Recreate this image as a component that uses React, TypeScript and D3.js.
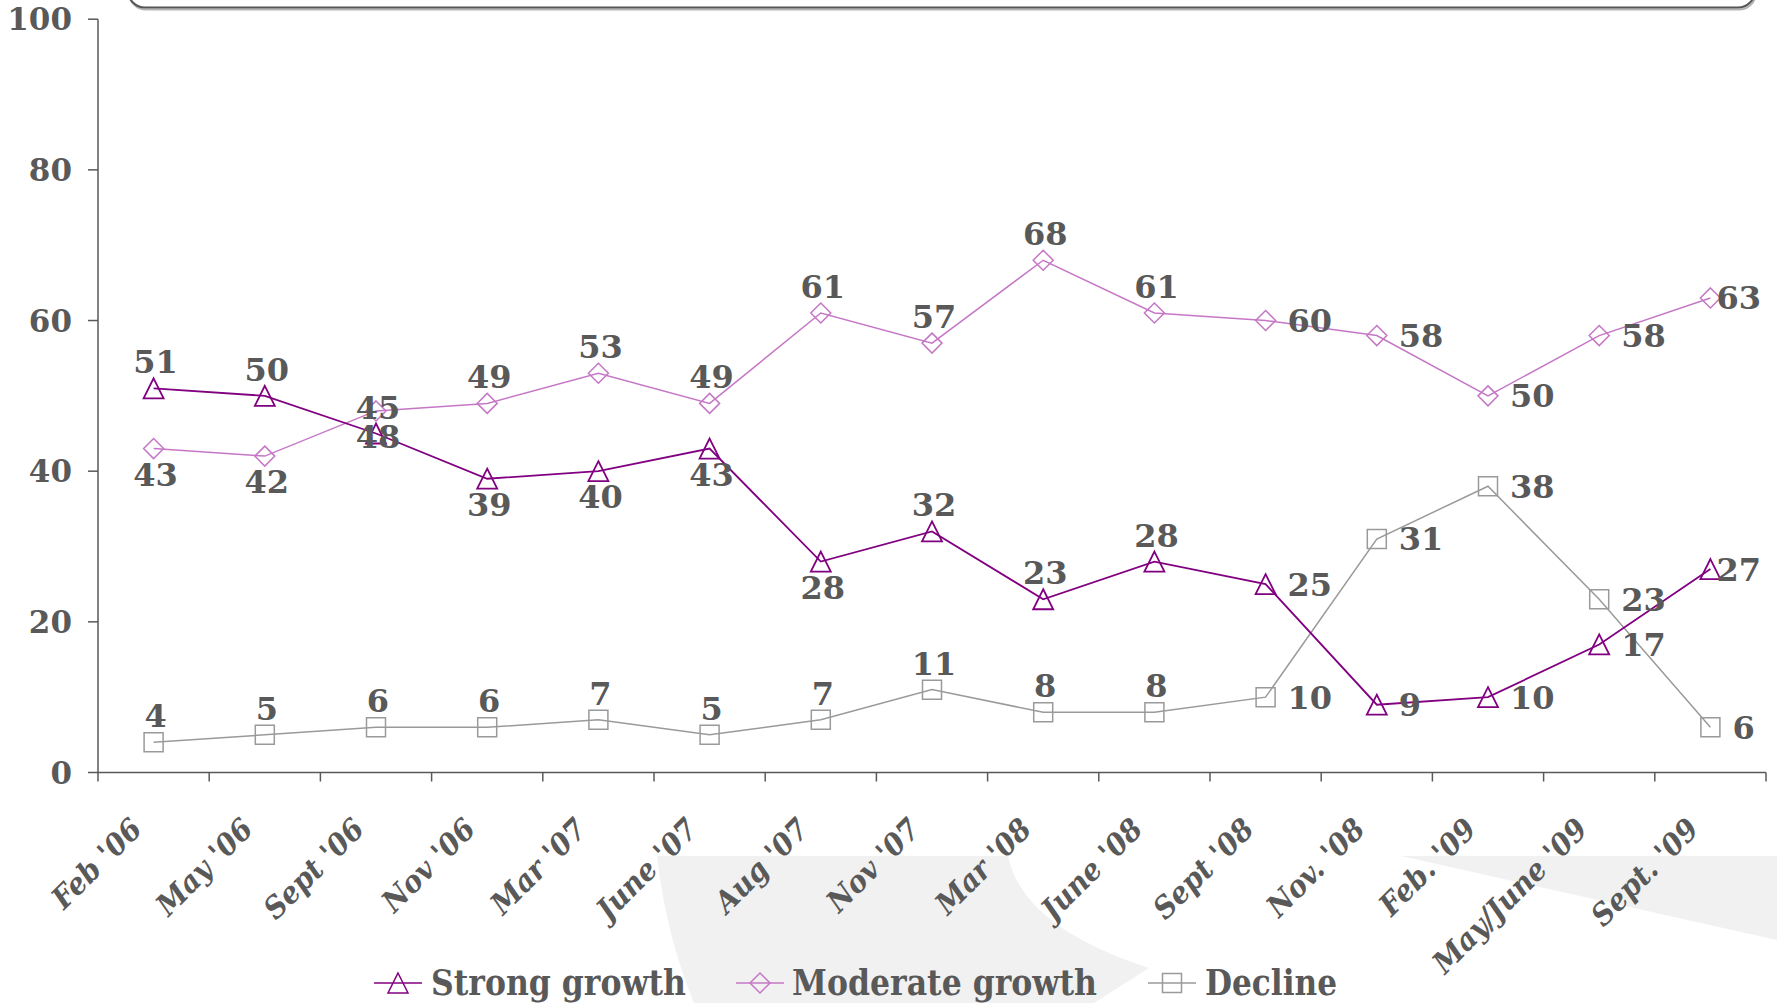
import React from "react";
import * as d3 from "d3";

// Survey waves (x axis)
const categories = [
  "Feb '06", "May '06", "Sept '06", "Nov '06", "Mar '07", "June '07", "Aug '07",
  "Nov '07", "Mar '08", "June '08", "Sept '08", "Nov. '08", "Feb. '09",
  "May/June '09", "Sept. '09",
];

// Share of respondents (%) per answer
const strongGrowth = [51, 50, 45, 39, 40, 43, 28, 32, 23, 28, 25, 9, 10, 17, 27];
const moderateGrowth = [43, 42, 48, 49, 53, 49, 61, 57, 68, 61, 60, 58, 50, 58, 63];
const decline = [4, 5, 6, 6, 7, 5, 7, 11, 8, 8, 10, 31, 38, 23, 6];

const yTicks = [0, 20, 40, 60, 80, 100];

// Where each value label sits relative to its point: a = above, b = below, r = right
const strongPlace = ["a", "a", "a", "b", "b", "b", "b", "a", "a", "a", "r", "r", "r", "r", "r"];
const moderatePlace = ["b", "b", "b", "a", "a", "a", "a", "a", "a", "a", "r", "r", "r", "r", "r"];
const declinePlace = ["a", "a", "a", "a", "a", "a", "a", "a", "a", "a", "r", "r", "r", "r", "r"];

const TEXT = "#595959";
const AXIS = "#595959";
const SERIF = "'DejaVu Serif', serif";

const W = 1777;
const H = 1003;

type Marker = "triangle" | "diamond" | "square";

function markerPath(kind: Marker): string {
  if (kind === "triangle") return "M0,-10L10,10L-10,10Z";
  if (kind === "diamond") return "M0,-10L10,0L0,10L-10,0Z";
  return "M-9.5,-9.5L9.5,-9.5L9.5,9.5L-9.5,9.5Z";
}

const series = [
  { name: "Decline", values: decline, place: declinePlace, color: "#9a9a9a", width: 1.5, marker: "square" as Marker },
  { name: "Moderate growth", values: moderateGrowth, place: moderatePlace, color: "#c577c5", width: 1.5, marker: "diamond" as Marker },
  { name: "Strong growth", values: strongGrowth, place: strongPlace, color: "#800080", width: 1.8, marker: "triangle" as Marker },
];

const legendItems = [
  { label: "Strong growth", color: "#800080", marker: "triangle" as Marker, lineX: 374, textX: 431, textLen: 255 },
  { label: "Moderate growth", color: "#c577c5", marker: "diamond" as Marker, lineX: 736, textX: 792, textLen: 305 },
  { label: "Decline", color: "#9a9a9a", marker: "square" as Marker, lineX: 1148, textX: 1205, textLen: 132 },
];

export default function App() {
  const plotLeft = 98;
  const plotRight = 1766;
  const x = d3.scaleBand<string>().domain(categories).range([plotLeft, plotRight]).padding(0);
  const y = d3.scaleLinear().domain([0, 100]).range([772.5, 19.2]);
  const cx = (i: number) => (x(categories[i]) as number) + x.bandwidth() / 2;

  const line = d3
    .line<number>()
    .x((_, i) => cx(i))
    .y((d) => y(d));

  const labelFont = 32;
  const digitW = 22.3;
  const labelRightLimit = 1761;

  const bandEdges = d3.range(categories.length + 1).map((i) => plotLeft + i * x.bandwidth());

  return (
    <svg
      width={W}
      height={H}
      viewBox={`0 0 ${W} ${H}`}
      style={{ position: "absolute", left: 0, top: 0, display: "block", background: "#fff" }}
    >
      {/* decorative background shapes */}
      <path
        d="M657,856 L1008,856 C1020,912 1080,945 1149,968 L1094,1003 L694,1003 Q666,935 657,856 Z"
        fill="#f1f1f1"
      />
      <path d="M1401,856 L1777,856 L1777,940 Z" fill="#f1f1f1" />

      {/* framed header box (cut by the top edge) */}
      <rect x={129} y={-60} width={1627} height={69.5} rx={17} fill="none" stroke="#b5b5b5" strokeWidth={2} />
      <rect x={128} y={-60} width={1627} height={67.5} rx={17} fill="none" stroke="#555" strokeWidth={2} />

      {/* y axis */}
      <line x1={plotLeft} x2={plotLeft} y1={y(100)} y2={y(0)} stroke={AXIS} strokeWidth={1.5} />
      {yTicks.map((t) => (
        <g key={t}>
          <line x1={plotLeft - 10} x2={plotLeft} y1={y(t)} y2={y(t)} stroke={AXIS} strokeWidth={1.5} />
          <text
            x={72}
            y={y(t)}
            dy="0.36em"
            textAnchor="end"
            fontFamily={SERIF}
            fontWeight="bold"
            fontSize={31}
            fill={TEXT}
          >
            {t}
          </text>
        </g>
      ))}

      {/* x axis */}
      <line x1={plotLeft} x2={plotRight} y1={y(0)} y2={y(0)} stroke={AXIS} strokeWidth={1.5} />
      {bandEdges.map((bx, i) => (
        <line key={i} x1={bx} x2={bx} y1={y(0)} y2={y(0) + 9} stroke={AXIS} strokeWidth={1.5} />
      ))}
      {categories.map((c, i) => (
        <text
          key={c}
          transform={`translate(${cx(i) - 10},${831}) rotate(-45) scale(0.93,1)`}
          textAnchor="end"
          fontFamily={SERIF}
          fontWeight="bold"
          fontStyle="italic"
          fontSize={30}
          fill={TEXT}
        >
          {c}
        </text>
      ))}

      {/* series lines and markers */}
      {series.map((s) => (
        <g key={s.name}>
          <path d={line(s.values) as string} fill="none" stroke={s.color} strokeWidth={s.width} />
          {s.values.map((v, i) => (
            <path
              key={i}
              d={markerPath(s.marker)}
              transform={`translate(${cx(i)},${y(v)})`}
              fill="none"
              stroke={s.color}
              strokeWidth={s.marker === "triangle" ? 1.8 : 1.5}
            />
          ))}
        </g>
      ))}

      {/* value labels */}
      {series.map((s) => (
        <g key={s.name + "-labels"}>
          {s.values.map((v, i) => {
            const px = cx(i);
            const py = y(v);
            const txt = String(v);
            const p = s.place[i];
            if (p === "r") {
              const lx = Math.min(px + 22, labelRightLimit - txt.length * digitW);
              return (
                <text key={i} x={lx} y={py + 11.5} fontFamily={SERIF} fontWeight="bold" fontSize={labelFont} fill={TEXT}>
                  {txt}
                </text>
              );
            }
            const ly = p === "a" ? py - 15 : py + 37;
            return (
              <text
                key={i}
                x={px + 2}
                y={ly}
                textAnchor="middle"
                fontFamily={SERIF}
                fontWeight="bold"
                fontSize={labelFont}
                fill={TEXT}
              >
                {txt}
              </text>
            );
          })}
        </g>
      ))}

      {/* legend */}
      {legendItems.map((l) => (
        <g key={l.label}>
          <line x1={l.lineX} x2={l.lineX + 48} y1={983} y2={983} stroke={l.color} strokeWidth={1.5} />
          <path
            d={markerPath(l.marker)}
            transform={`translate(${l.lineX + 24},983)`}
            fill="none"
            stroke={l.color}
            strokeWidth={1.5}
          />
          <text
            x={l.textX}
            y={995}
            fontFamily={SERIF}
            fontWeight="bold"
            fontSize={35}
            fill={TEXT}
            textLength={l.textLen}
            lengthAdjust="spacingAndGlyphs"
          >
            {l.label}
          </text>
        </g>
      ))}
    </svg>
  );
}
